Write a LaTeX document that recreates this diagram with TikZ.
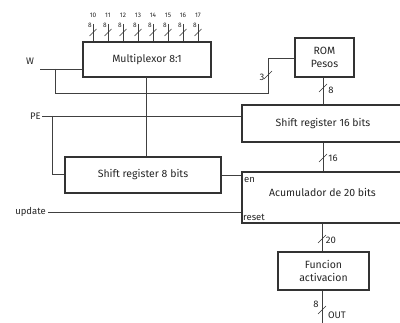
\documentclass[tikz,border=0pt]{standalone}
\usepackage{fontspec}
\setmainfont{Fira Sans}
\usetikzlibrary{calc}
\begin{document}
\begin{tikzpicture}[x=1pt,y=-1pt,
  blk/.style={draw=black!80,line width=1.1pt,inner sep=0pt,font=\fontsize{10.5}{12.5}\selectfont,align=center,fill=white,text=black!85},
  wire/.style={draw=black!75,line width=0.6pt},
  lbl/.style={inner sep=0pt,font=\fontsize{9.5}{10}\selectfont,text=black!85},
  tiny/.style={inner sep=0pt,font=\fontsize{6.5}{7}\selectfont,text=black!85},
  bus/.style={draw=black!80,line width=0.6pt}]
\useasboundingbox (0,0) rectangle (400,323);
% blocks
\node[blk,minimum width=128pt,minimum height=35pt] (mux) at (147,59.5) {Multiplexor 8:1};
\node[blk,minimum width=59pt,minimum height=39pt] (rom) at (324.5,57.5) {ROM\\Pesos};
\node[blk,minimum width=162pt,minimum height=37pt] (sr16) at (323,123.5) {Shift register 16 bits};
\node[blk,minimum width=156pt,minimum height=36pt] (sr8) at (143,175) {Shift register 8 bits};
\node[blk,minimum width=162pt,minimum height=51pt] (acc) at (323,197.5) {};
\node[lbl,font=\fontsize{10.5}{12.5}\selectfont] (acct) at (322.5,192) {Acumulador de 20 bits};
\node[lbl,anchor=west] (en) at (244,180) {en};
\node[lbl,anchor=west] (rst) at (243,217) {reset};
\node[blk,minimum width=91pt,minimum height=38pt] (fa) at (323.5,271) {Funcion\\activacion};
% inputs to mux
\foreach \i [count=\k from 0] in {10,...,17}{
  \pgfmathsetmacro{\xx}{93+15*\k}
  \coordinate (in\k) at (\xx,24);
  \draw[wire] (in\k) -- (in\k |- mux.north);
  \draw[bus] ($(in\k)+(-3.5,12)$) -- ($(in\k)+(3.5,5)$);
  \node[tiny] (n\k) at (\xx,15) {\i};
  \node[tiny] (e\k) at (\xx-3,25) {8};
}
% W
\node[lbl] (W) at (30,61) {W};
\coordinate (w0) at (40,69);
\coordinate (wb) at (55,69);
\draw[wire] (w0) -- (w0 -| mux.west);
\draw[wire] (wb) -- (55,93) -- (268,93) coordinate (w3) -- (268,58) -- (268,58 -| rom.west);
\draw[bus] (264,79) -- (272,71);
\node[lbl] (l3) at (262,77) {3};
% mux to sr8
\draw[wire] (146,77) -- (146,0 |- sr8.north);
% rom to sr16
\draw[wire] (323,0 |- rom.south) -- (323,0 |- sr16.north);
\draw[bus] (319,92) -- (327,84);
\node[lbl] (l8a) at (331,90) {8};
% PE
\node[lbl,anchor=east] (PE) at (41,116) {PE};
\draw[wire] (PE.east) ++(1,0) -- (PE.east -| sr16.west);
\draw[wire] (52,116) -- (52,174) -- (52,174 -| sr8.west);
% sr8 to acc
\draw[wire] (sr8.east |- 0,175) -- (acc.west |- 0,175);
% sr16 to acc
\draw[wire] (323,0 |- sr16.south) -- (323,0 |- acc.north);
\draw[bus] (319,162) -- (327,154);
\node[lbl] (l16) at (333,158) {16};
% update
\node[lbl,anchor=east] (upd) at (46,212) {update};
\draw[wire] (upd.east) ++(2,0) -- (acc.west |- 0,212);
% acc to fa
\draw[wire] (322,0 |- acc.south) -- (322,0 |- fa.north);
\draw[bus] (318,243) -- (326,235);
\node[lbl] (l20) at (331,240) {20};
% output
\coordinate (out) at (322,323);
\draw[wire] (322,0 |- fa.south) -- (out);
\draw[bus] (318,314) -- (326,306);
\node[lbl] (l8b) at (316,304) {8};
\node[lbl] (lout) at (337,315) {OUT};
\end{tikzpicture}
\end{document}
